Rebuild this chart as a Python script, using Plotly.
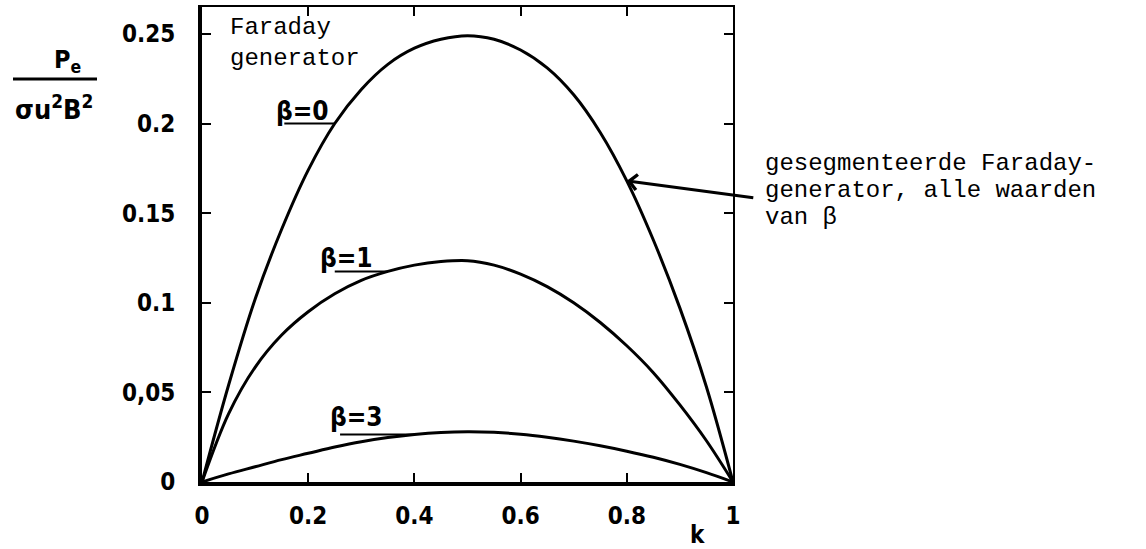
import plotly.graph_objects as go

# ---- data ----
k = [0, 0.05, 0.1, 0.15, 0.2, 0.25, 0.3, 0.35, 0.4, 0.45, 0.5,
     0.55, 0.6, 0.65, 0.7, 0.75, 0.8, 0.85, 0.9, 0.95, 1]
beta0 = [0, 0.054, 0.102, 0.141, 0.174, 0.200, 0.219, 0.233, 0.242, 0.247, 0.249,
         0.247, 0.241, 0.231, 0.216, 0.195, 0.168, 0.135, 0.097, 0.053, 0]
beta1 = [0, 0.038, 0.064, 0.082, 0.095, 0.105, 0.1125, 0.1175, 0.121, 0.123, 0.1235,
         0.121, 0.116, 0.109, 0.100, 0.089, 0.076, 0.061, 0.043, 0.023, 0]
beta3 = [0, 0.0045, 0.0085, 0.0125, 0.016, 0.0195, 0.0225, 0.0248, 0.0265, 0.0276, 0.028,
         0.0277, 0.0267, 0.025, 0.0228, 0.0202, 0.0172, 0.0138, 0.0098, 0.0052, 0]

x_tick_vals = [0, 0.2, 0.4, 0.6, 0.8, 1]
x_tick_text = ["0", "0.2", "0.4", "0.6", "0.8", "1"]
y_tick_vals = [0, 0.05, 0.1, 0.15, 0.2, 0.25]
y_tick_text = ["0", "0,05", "0.1", "0.15", "0.2", "0.25"]

# ---- layout geometry (pixels) ----
W, H = 1146, 549
L, R, T, B = 202, 733, 7, 482


def px(xp):
    return (xp - L) / (R - L)


def py(yp):
    return (B - yp) / (B - T)


BOLD = dict(family="DejaVu Sans Condensed, Roboto Condensed, Roboto, sans-serif", size=24,
            color="black", weight="bold")
MONO = dict(family="Liberation Mono, DejaVu Sans Mono, monospace", size=24, color="black")

fig = go.Figure()
for series in (beta0, beta1, beta3):
    fig.add_trace(go.Scatter(x=k, y=series, mode="lines", line=dict(color="black", width=3, shape="spline"),
                             showlegend=False, hoverinfo="skip"))
# helper (invisible) trace for mirrored axes
fig.add_trace(go.Scatter(x=[k[0]], y=[beta0[0]], xaxis="x2", yaxis="y2", mode="markers",
                         marker=dict(opacity=0), showlegend=False, hoverinfo="skip"))

yr = [0, 0.265]
fig.update_layout(
    width=W, height=H,
    margin=dict(l=L, r=W - R, t=T, b=H - B),
    paper_bgcolor="white", plot_bgcolor="white",
    xaxis=dict(range=[0, 1], tickvals=x_tick_vals, ticktext=x_tick_text, ticks="inside", ticklen=9,
               tickwidth=2, tickcolor="black", showline=True, linewidth=4, linecolor="black",
               showgrid=False, zeroline=False, tickfont=BOLD, ticklabelstandoff=9),
    yaxis=dict(range=yr, tickvals=y_tick_vals, ticktext=y_tick_text, ticks="inside", ticklen=9,
               tickwidth=2, tickcolor="black", showline=True, linewidth=4, linecolor="black",
               showgrid=False, zeroline=False, tickfont=BOLD, ticklabelstandoff=18),
    xaxis2=dict(range=[0, 1], overlaying="x", side="top", tickvals=x_tick_vals[1:-1], ticks="inside",
                ticklen=9, tickwidth=2, tickcolor="black", showline=True, linewidth=2, linecolor="black",
                showticklabels=False, showgrid=False, zeroline=False),
    yaxis2=dict(range=yr, overlaying="y", side="right", tickvals=y_tick_vals[1:], ticks="inside",
                ticklen=9, tickwidth=2, tickcolor="black", showline=True, linewidth=2, linecolor="black",
                showticklabels=False, showgrid=False, zeroline=False),
)


def label(xp, yp, text, font, xanchor="center", yanchor="middle"):
    return dict(x=px(xp), y=py(yp), xref="paper", yref="paper", text=text, showarrow=False,
                xanchor=xanchor, yanchor=yanchor, font=font)


ann = []
# y-axis title as a fraction
ann.append(label(67, 61, "P<sub>e</sub>", dict(BOLD, size=25)))
ann.append(label(54, 108, "σu<sup>2</sup>B<sup>2</sup>", dict(BOLD, size=27)))
ann.append(label(697, 535, "k", BOLD))
# Faraday generator
ann.append(dict(x=px(228), y=py(12), xref="paper", yref="paper", text="Faraday<br>generator",
                showarrow=False, xanchor="left", yanchor="top", align="left", font=MONO))
# segmented generator text
for i, line in enumerate(["gesegmenteerde Faraday-", "generator, alle waarden", "van β"]):
    ann.append(label(763, 163 + 27 * i, line, MONO, xanchor="left"))
# arrow to beta=0 curve
ann.append(dict(x=k[16], y=beta0[16], xref="x", yref="y", text="", showarrow=True, arrowhead=4,
                arrowsize=1, arrowwidth=3, arrowcolor="black", ax=128, ay=17, axref="pixel", ayref="pixel"))
# beta labels
ann.append(label(302, 111, "β=0", dict(BOLD, size=26)))
ann.append(label(346, 258, "β=1", dict(BOLD, size=26)))
ann.append(label(356, 417, "β=3", dict(BOLD, size=26)))
fig.update_layout(annotations=ann)

shapes = []
# fraction bar
shapes.append(dict(type="line", xref="paper", yref="paper", x0=px(13), x1=px(97), y0=py(79), y1=py(79),
                   line=dict(color="black", width=3)))
# leader underlines to curves
shapes.append(dict(type="line", xref="x", yref="y", x0=0.155, x1=k[5], y0=beta0[5], y1=beta0[5],
                   line=dict(color="black", width=2)))
shapes.append(dict(type="line", xref="x", yref="y", x0=0.25, x1=k[7], y0=beta1[7], y1=beta1[7],
                   line=dict(color="black", width=2)))
shapes.append(dict(type="line", xref="x", yref="y", x0=0.26, x1=k[8], y0=beta3[8], y1=beta3[8],
                   line=dict(color="black", width=2)))
fig.update_layout(shapes=shapes)

fig.write_html("out.html")
